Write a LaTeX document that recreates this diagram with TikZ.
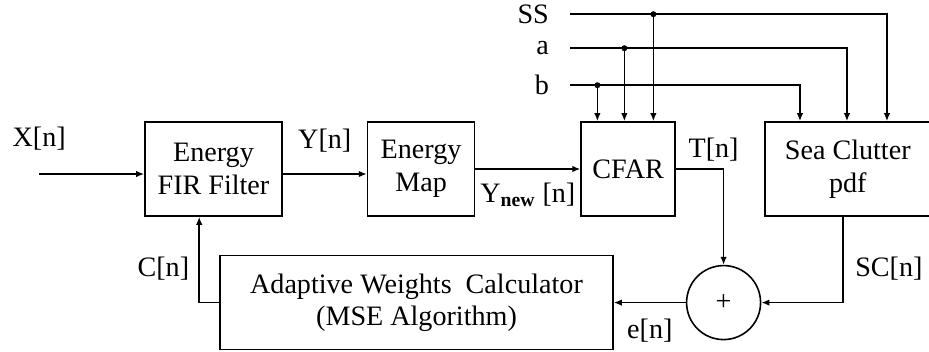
\documentclass[tikz,border=0pt]{standalone}
\usepackage{fontspec}
\setmainfont{Liberation Serif}
\usetikzlibrary{
    arrows.meta,
    positioning
}

\begin{document}
\begin{tikzpicture}[
      font=\fontsize{16}{18.5}\selectfont,
      line width=0.9pt,
      blk/.style={draw, rectangle, align=center, minimum height=1.88cm, inner sep=2pt},
      sumnode/.style={draw, circle, minimum size=1.48cm, inner sep=0pt},
      lbl/.style={inner sep=1pt},
      dot/.style={circle, fill, inner sep=0pt, minimum size=1.2mm},
      >={Latex[length=1.6mm,width=1.3mm]}]
    \useasboundingbox (0,0) rectangle (18.58,-7.04);
    \node[blk, minimum width=2.74cm] (fir) at (4.27,-3.38) {Energy\\FIR Filter};
    \node[blk, minimum width=2.14cm, right=1.68cm of fir] (map) {Energy\\Map};
    \node[blk, minimum width=1.88cm, right=2.1cm of map] (cfar) {CFAR};
    \node[blk, minimum width=3.32cm, right=1.76cm of cfar] (sea) {Sea Clutter\\pdf};
    \node[blk, minimum width=7.86cm, below=0.76cm of fir.south west, anchor=north west, xshift=1.5cm] (awc) {Adaptive Weights~ Calculator\\(MSE Algorithm)};
    \node[sumnode, right=1.44cm of awc] (sum) {+};
    % inputs and taps
    \coordinate (xin) at ([xshift=-2.1cm,yshift=-0.1cm]fir.west);
    \coordinate (cin) at ([xshift=1.1cm]fir.south west);
    \coordinate (ssin) at ([xshift=-0.2cm,yshift=2.14cm]cfar.north west);
    \coordinate (ain) at ([xshift=-0.2cm,yshift=1.46cm]cfar.north west);
    \coordinate (bin) at ([xshift=-0.2cm,yshift=0.72cm]cfar.north west);
    \coordinate (cb) at ([xshift=0.34cm]cfar.north west);
    \coordinate (ca) at ([xshift=0.88cm]cfar.north west);
    \coordinate (cs) at ([xshift=1.46cm]cfar.north west);
    \coordinate (sb) at ([xshift=0.72cm]sea.north west);
    \coordinate (sa) at ([xshift=1.66cm]sea.north west);
    \coordinate (ss) at ([xshift=2.46cm]sea.north west);
    \node[lbl, above=0.42cm of xin] (xlbl) {X[n]};
    \node[lbl, left=0.38cm of ssin] (sslbl) {SS};
    \node[lbl, left=0.38cm of ain] (albl) {a};
    \node[lbl, left=0.38cm of bin] (blbl) {b};
    \node[dot] (dss) at (ssin -| cs) {};
    \node[dot] (da) at (ain -| ca) {};
    \node[dot] (db) at (bin -| cb) {};
    % signal path
    \draw[->] (xin) -- (xin -| fir.west);
    \draw[->] ([yshift=-0.1cm]fir.east) -- node[lbl, above=0.38cm] (ylbl) {Y[n]} ([yshift=-0.1cm]map.west);
    \draw[->] (map) -- node[lbl, below=0.22cm] (ynlbl) {Y\textsubscript{\bfseries new} [n]} (cfar);
    \draw[->] (cfar.east) -| node[lbl, pos=0.5, anchor=south, xshift=-0.2cm, yshift=0.1cm] (tlbl) {T[n]} (sum.north);
    \draw[->] ([xshift=-0.1cm]sea.south) |- node[lbl, pos=0.3, right=0.2cm] (sclbl) {SC[n]} (sum.east);
    \draw[->] (sum.west) -- node[lbl, below=0.28cm] (elbl) {e[n]} (sum.west -| awc.east);
    \draw[->] (awc.west) -| node[lbl, pos=0.7, left=0.15cm] (clbl) {C[n]} (cin);
    \draw[->] (ssin) -| (ss);
    \draw[->] (ain) -| (sa);
    \draw[->] (bin) -| (sb);
    \draw[->] (dss.center) -- (cs);
    \draw[->] (da.center) -- (ca);
    \draw[->] (db.center) -- (cb);
  \end{tikzpicture}
\end{document}
